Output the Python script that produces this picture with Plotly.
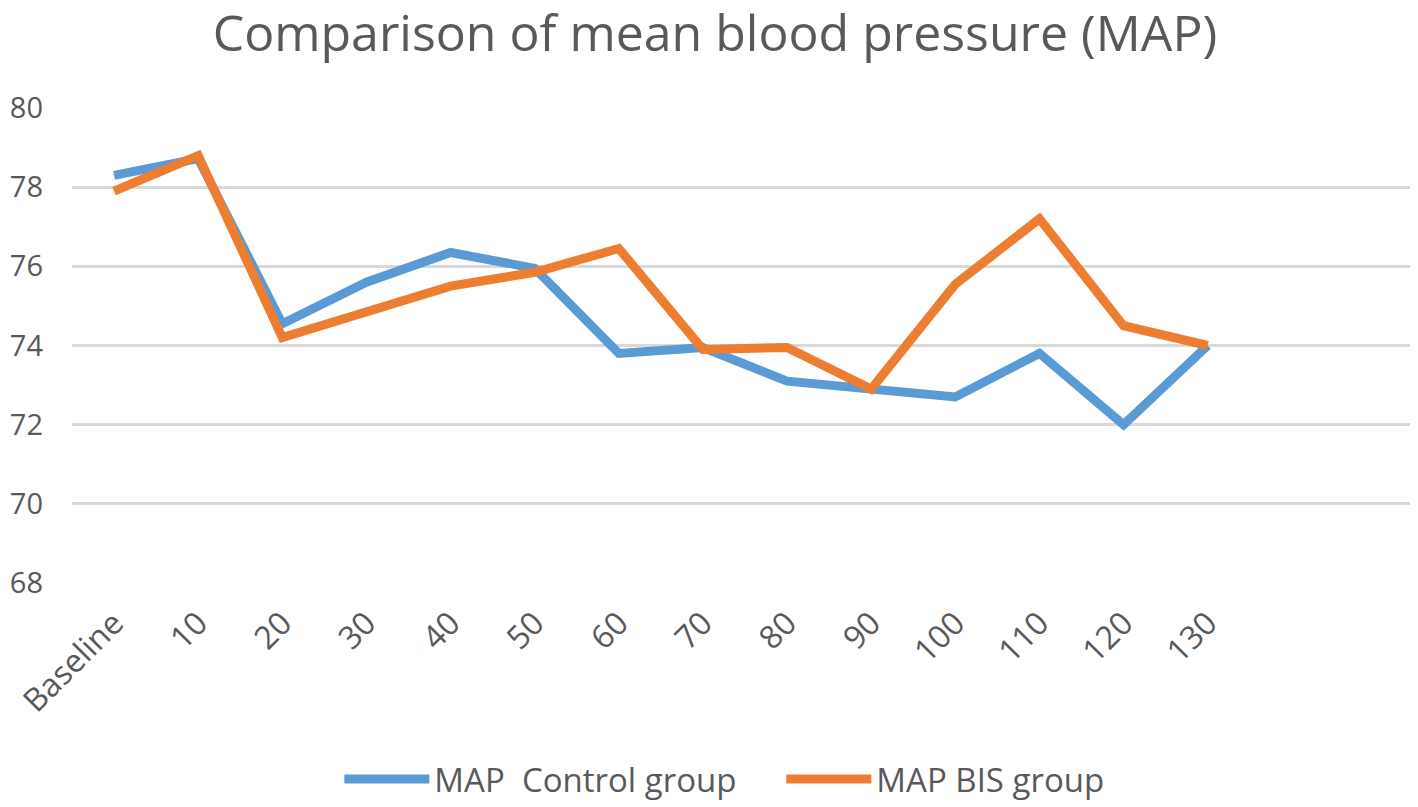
import plotly.graph_objects as go

categories = ["Baseline", "10", "20", "30", "40", "50", "60", "70", "80", "90", "100", "110", "120", "130"]
control = [78.3, 78.72, 74.55, 75.6, 76.35, 75.95, 73.8, 73.95, 73.1, 72.9, 72.7, 73.8, 72.0, 74.0]
bis = [77.9, 78.8, 74.2, 74.85, 75.5, 75.85, 76.45, 73.9, 73.95, 72.9, 75.55, 77.2, 74.5, 74.0]

xpos = list(range(len(categories)))
grey = "#595959"
font_family = "'Open Sans', sans-serif"

fig = go.Figure()
fig.add_trace(go.Scatter(x=xpos, y=control, mode="lines", name="MAP\u00a0 Control group",
                         line=dict(color="#5B9BD5", width=9)))
fig.add_trace(go.Scatter(x=xpos, y=bis, mode="lines", name="MAP BIS group",
                         line=dict(color="#ED7D31", width=9)))

fig.update_layout(
    width=1410, height=799,
    margin=dict(l=64, r=0, t=100, b=224, autoexpand=False),
    paper_bgcolor="white", plot_bgcolor="white",
    title=dict(text="Comparison of mean blood pressure (MAP)", x=0.5014, xanchor="center",
               y=0.968, yanchor="middle", yref="container",
               font=dict(size=50, color=grey, family=font_family)),
    font=dict(family=font_family, color=grey),
    showlegend=True,
    legend=dict(orientation="h", x=0.527, xanchor="center", y=-0.005, yanchor="bottom",
                yref="container", font=dict(size=33, color=grey), itemwidth=85,
                entrywidth=342, bgcolor="rgba(0,0,0,0)"),
)
fig.update_xaxes(
    tickmode="array", tickvals=xpos, ticktext=categories,
    range=[-0.5, 15.5], tickangle=-45, showgrid=False, zeroline=False, showline=False,
    tickfont=dict(size=32, color=grey), ticks="", automargin=False,
    ticklabelstandoff=14,
)
fig.update_yaxes(
    range=[68, 80], dtick=2, tick0=68, showgrid=True, gridcolor="#D9D9D9", gridwidth=2.5,
    zeroline=False, showline=False, tickfont=dict(size=29, color=grey), ticks="",
    ticklabelstandoff=28, automargin=False,
)
fig.write_html("out.html")
